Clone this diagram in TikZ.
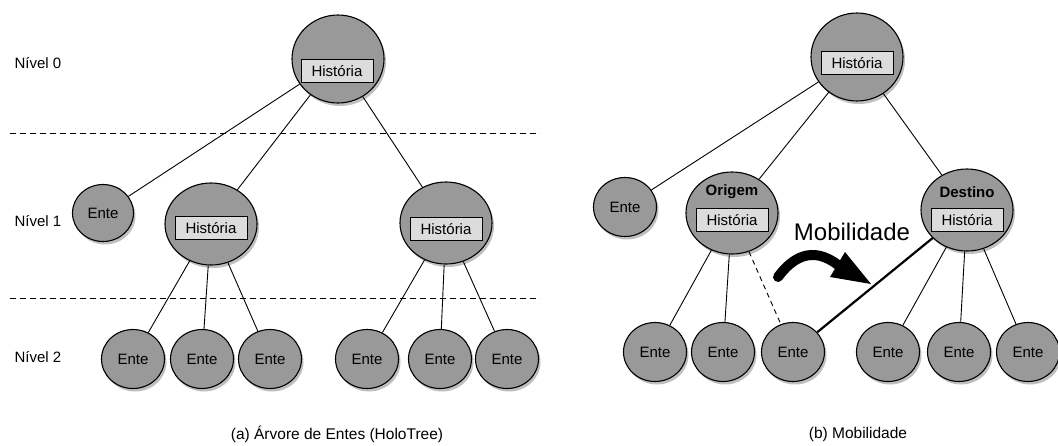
\documentclass[tikz,border=0pt]{standalone}
\usepackage{fontspec}
\setmainfont{Liberation Sans}
\usepackage{tikz}
\usetikzlibrary{shapes.geometric}
\usetikzlibrary{shadows}
\definecolor{entegray}{HTML}{999999}
\definecolor{boxgray}{HTML}{DCDCDC}
\tikzset{
  ente/.style={ellipse, draw, line width=1.1pt, fill=entegray, inner sep=0pt,
    minimum width=63pt, minimum height=59pt, font=\fontsize{15}{18}\selectfont,
    drop shadow={fill=black, opacity=0.25, shadow xshift=2pt, shadow yshift=-3pt}},
  bigente/.style={ente, minimum width=92pt, minimum height=82pt},
  histbox/.style={draw, line width=1pt, fill=boxgray, inner sep=0pt,
    minimum width=72pt, minimum height=23pt, font=\fontsize{15}{18}\selectfont},
  rotulo/.style={font=\fontsize{15}{18}\selectfont},
  legenda/.style={font=\fontsize{15.5}{18}\selectfont},
  aresta/.style={line width=0.9pt},
}

\begin{document}
\begin{tikzpicture}[x=1pt, y=-1pt]
  \useasboundingbox (0,0) rectangle (1058,445);
  % (a) arvore de entes
  \draw[line width=0.9pt, dash pattern=on 6pt off 4pt] (10,133) -- (540,133);
  \draw[line width=0.9pt, dash pattern=on 6pt off 4pt] (10,298) -- (540,298);
  \node[rotulo] (nivel0) at (38,63) {Nível 0};
  \node[rotulo] (nivel1) at (38,221) {Nível 1};
  \node[rotulo] (nivel2) at (38,357) {Nível 2};
  \node[bigente, minimum height=88pt] (rootA) at (338,59) {};
  \node[ente, minimum width=61pt, minimum height=57pt] (enteA) at (103,213) {Ente};
  \node[bigente] (histA1) at (211,224) {};
  \node[bigente] (histA2) at (446,223) {};
  \foreach \x [count=\i] in {133,202,270,367,440,507}
    \node[ente] (leafA\i) at (\x,359) {Ente};
  \node[histbox] (boxA0) at (337,71) {História};
  \node[histbox] (boxA1) at (211,228) {História};
  \node[histbox] (boxA2) at (446,229) {História};
  \draw[aresta] (rootA) -- (enteA);
  \draw[aresta] (rootA) -- (histA1);
  \draw[aresta] (rootA) -- (histA2);
  \foreach \i in {1,2,3}
    \draw[aresta] (histA1) -- (leafA\i);
  \foreach \i in {4,5,6}
    \draw[aresta] (histA2) -- (leafA\i);
  \node[legenda] (capA) at (337,434) {(a) Árvore de Entes (HoloTree)};

  % (b) mobilidade
  \node[bigente, minimum height=88pt] (rootB) at (857,57) {};
  \node[ente] (enteB) at (625,207) {Ente};
  \node[bigente] (origem) at (732,213) {};
  \node[bigente] (destino) at (967,210) {};
  \foreach \x [count=\i] in {655,723,793,888,959,1028}
    \node[ente] (leafB\i) at (\x,352) {Ente};
  \node[rotulo, font=\fontsize{15}{18}\selectfont\bfseries] (origemtxt) at (732,192) {Origem};
  \node[rotulo, font=\fontsize{15}{18}\selectfont\bfseries] (destinotxt) at (967,192) {Destino};
  \node[histbox] (boxB0) at (857,63) {História};
  \node[histbox] (boxB1) at (732,220) {História};
  \node[histbox] (boxB2) at (967,220) {História};
  \draw[aresta] (rootB) -- (enteB);
  \draw[aresta] (rootB) -- (origem);
  \draw[aresta] (rootB) -- (destino);
  \draw[aresta] (origem) -- (leafB1);
  \draw[aresta] (origem) -- (leafB2);
  \draw[aresta, dash pattern=on 5pt off 4pt] (origem) -- (leafB3);
  \draw[line width=2.2pt] (destino) -- (leafB3);
  \foreach \i in {4,5,6}
    \draw[aresta] (destino) -- (leafB\i);
  \node[font=\fontsize{24}{28}\selectfont] (mobtxt) at (852,232) {Mobilidade};
  \draw[line width=10pt, line cap=round] (778,277) .. controls (792,258) and (812,245) .. (838,265);
  \fill (830,277) -- (845,252) -- (871,284) -- cycle;
  \node[legenda] (capB) at (858,434) {(b) Mobilidade};
\end{tikzpicture}
\end{document}
